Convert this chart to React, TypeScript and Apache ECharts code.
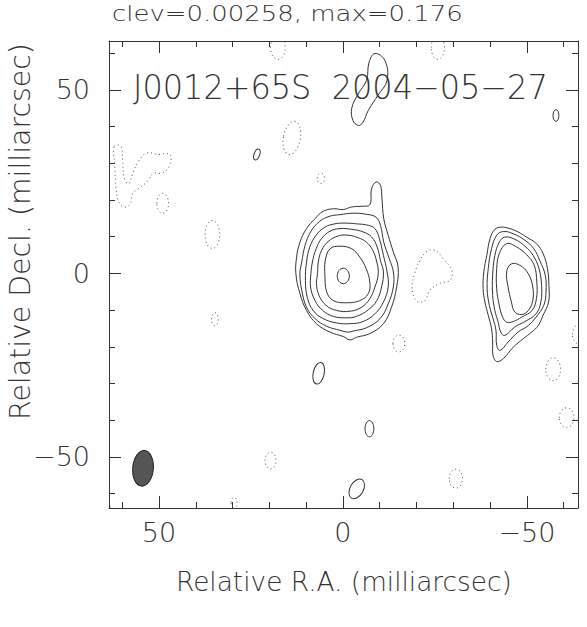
import React, { useEffect, useRef } from "react";
import * as echarts from "echarts";

// ---- text ----
const titleText = "clev=0.00258, max=0.176";
const sourceText = "J0012+65S  2004\u221205\u221227";
const xAxisName = "Relative R.A. (milliarcsec)";
const yAxisName = "Relative Decl. (milliarcsec)";

// ---- axes (milliarcsec) ----
const raRange = [-63.9, 63.6];
const decRange = [-63.9, 63.3];
const raTicks = [60, 50, 40, 30, 20, 10, 0, -10, -20, -30, -40, -50, -60];
const raMajor = [50, 0, -50];
const decTicks = [60, 50, 40, 30, 20, 10, 0, -10, -20, -30, -40, -50, -60];
const decMajor = [50, 0, -50];

// ---- main component contours [RA, Dec] ----
const mainRing1 = [[12.6,4.4],[11.7,8.5],[9.9,12.2],[7.6,14.9],[5.4,16.9],[2.6,17.6],[-0.1,17.4],[-2.4,18.1],[-5.1,18.3],[-7.3,18.7],[-7.8,23.1],[-9.0,24.9],[-10.2,24.0],[-10.6,20.4],[-11.1,14.9],[-12.3,10.4],[-13.7,5.8],[-15.0,1.7],[-14.6,-3.7],[-13.2,-9.2],[-11.0,-13.7],[-7.3,-16.4],[-3.7,-17.4],[-1.9,-18.1],[-0.1,-17.2],[3.5,-16.0],[7.2,-13.7],[9.9,-10.1],[11.7,-5.5],[12.8,-0.1]];
const mainRing2 = [[11.2,3.1],[10.3,7.6],[8.8,11.3],[6.3,14.2],[3.5,15.6],[0.8,16.0],[-2.8,16.4],[-6.4,16.1],[-9.0,15.3],[-10.2,13.1],[-11.1,8.5],[-12.6,4.0],[-13.7,0.4],[-13.7,-3.7],[-12.3,-8.3],[-10.1,-12.3],[-6.4,-14.8],[-2.8,-15.7],[-1.4,-16.0],[0.8,-15.5],[4.4,-14.4],[7.6,-12.3],[9.9,-9.2],[11.2,-4.6],[11.7,-0.1]];
const mainRing3 = [[9.9,3.1],[9.0,7.2],[7.3,10.4],[4.9,12.6],[2.2,13.5],[-0.5,13.7],[-3.7,13.5],[-6.9,13.1],[-8.7,12.2],[-9.9,9.5],[-11.0,4.9],[-12.0,0.4],[-12.3,-3.7],[-11.0,-7.8],[-8.7,-11.0],[-5.5,-13.1],[-1.9,-13.7],[1.7,-13.5],[5.4,-12.3],[8.1,-10.1],[9.7,-6.5],[10.2,-1.9]];
const mainRing4 = [[8.3,3.1],[7.3,6.7],[5.8,9.5],[3.5,11.5],[0.8,12.2],[-2.4,12.0],[-5.5,11.3],[-7.8,9.9],[-9.3,7.2],[-10.2,3.5],[-11.0,0.4],[-10.5,-3.7],[-9.2,-7.4],[-6.9,-9.9],[-3.7,-11.7],[-1.0,-12.1],[2.6,-11.7],[5.5,-10.1],[7.6,-7.4],[8.8,-3.7],[8.7,0.0]];
const mainRing5 = [[6.7,3.1],[5.8,6.3],[4.0,8.7],[1.3,10.2],[-1.4,10.4],[-4.2,9.7],[-6.4,8.5],[-8.1,6.3],[-9.2,3.1],[-9.6,-0.1],[-8.7,-3.7],[-7.3,-6.9],[-5.1,-9.2],[-1.9,-10.3],[1.7,-10.1],[4.6,-8.7],[6.5,-6.0],[7.2,-2.8],[6.9,0.0]];
const mainRing6 = [[3.5,6.7],[0.8,7.4],[-2.4,6.7],[-4.6,4.4],[-6.3,1.3],[-7.3,-2.4],[-6.9,-5.5],[-4.6,-7.4],[-1.0,-8.0],[2.6,-7.4],[4.4,-5.1],[4.9,-0.5],[4.8,3.5]];

// ---- secondary component contours ----
const eastRing1 = [[-43.1,12.6],[-45.4,12.2],[-47.6,11.3],[-49.9,9.9],[-52.6,8.1],[-54.4,5.4],[-55.6,1.3],[-56.0,-3.3],[-55.9,-7.8],[-54.4,-11.4],[-53.1,-14.2],[-51.3,-16.0],[-49.0,-17.8],[-46.3,-20.1],[-43.6,-23.2],[-41.8,-24.0],[-40.8,-22.3],[-40.7,-18.7],[-40.4,-15.1],[-39.5,-11.4],[-38.6,-7.8],[-38.1,-4.2],[-38.3,0.4],[-39.1,4.9],[-40.0,9.5],[-41.3,12.0]];
const eastRing2 = [[-43.6,11.4],[-46.3,10.8],[-49.5,9.0],[-51.9,6.7],[-53.5,3.5],[-55.0,-0.5],[-55.2,-5.1],[-54.6,-8.7],[-52.5,-11.9],[-50.4,-14.2],[-47.6,-16.0],[-44.9,-18.7],[-42.7,-21.0],[-41.8,-19.6],[-41.6,-15.5],[-40.8,-12.3],[-39.8,-8.7],[-39.2,-4.2],[-39.5,1.3],[-40.4,6.7],[-41.8,10.4]];
const eastRing3 = [[-44.0,9.9],[-46.7,9.3],[-49.5,7.4],[-51.7,4.9],[-53.3,1.3],[-54.0,-3.3],[-53.8,-7.8],[-52.5,-11.0],[-49.5,-13.1],[-46.7,-14.6],[-44.0,-16.9],[-42.9,-16.0],[-42.2,-13.3],[-41.3,-10.1],[-40.7,-6.0],[-40.7,-0.5],[-41.3,4.9],[-42.5,8.5]];
const eastRing4 = [[-44.5,8.1],[-47.2,7.2],[-49.9,5.1],[-52.0,2.2],[-52.7,-2.4],[-52.6,-6.9],[-51.4,-10.1],[-48.6,-11.9],[-46.3,-13.1],[-44.5,-13.3],[-43.4,-11.9],[-42.5,-8.7],[-41.8,-4.2],[-41.8,1.3],[-42.5,5.4]];
const eastRing5 = [[-45.8,2.6],[-48.1,2.2],[-50.4,-0.1],[-51.6,-3.7],[-51.6,-7.4],[-50.4,-10.1],[-48.6,-11.2],[-46.7,-10.5],[-45.8,-7.8],[-44.9,-3.7],[-44.5,0.4]];

// ---- isolated positive contour (north) ----
const northLoop = [[-8.7,59.9],[-11.4,58.0],[-12.0,52.6],[-9.5,48.5],[-6.9,44.4],[-5.4,41.1],[-4.2,40.3],[-2.7,41.7],[-2.4,45.0],[-4.1,48.8],[-6.4,52.6],[-7.1,57.5]];

// ---- negative contours (irregular) ----
const westNegative = [[62.2,34.6],[60.4,34.6],[59.9,30.8],[59.5,26.2],[58.3,24.4],[57.0,27.6],[55.4,30.8],[53.3,32.8],[50.2,32.4],[47.0,32.4],[47.3,29.0],[49.3,27.3],[51.6,27.2],[53.3,24.9],[55.6,23.1],[57.2,21.7],[57.9,18.8],[59.7,18.1],[61.1,19.9],[61.7,23.5],[62.0,29.0]];
const centralNegative = [[-18.8,-4.1],[-19.6,0.3],[-20.9,3.5],[-22.8,6.0],[-25.0,6.3],[-27.2,4.1],[-29.6,0.8],[-29.1,-1.9],[-26.4,-2.7],[-23.6,-4.6],[-22.3,-7.4],[-20.1,-7.6]];

// ---- compact contours: [RA, Dec, halfWidth, halfHeight, tilt deg] ----
const positiveBlobs = [
  [-0.1, -0.7, 1.65, 2.1, 0],
  [23.4, 32.4, 0.75, 1.55, 20],
  [6.6, -27.2, 1.5, 3.0, 12],
  [-7.2, -42.3, 1.2, 2.2, 0],
  [-3.75, -58.7, 1.8, 2.9, 30],
  [-57.9, 43.0, 0.8, 1.6, 0],
];
const negativeBlobs = [
  [17.7, 61.5, 2.0, 3.2, 0],
  [-25.8, 61.5, 1.8, 3.2, 0],
  [13.9, 36.9, 2.3, 4.6, 10],
  [6.0, 25.9, 1.0, 1.4, 0],
  [35.5, 10.6, 2.0, 3.8, 0],
  [49.0, 19.1, 1.6, 2.7, 0],
  [34.8, -12.5, 0.9, 1.8, 0],
  [19.7, -51.0, 1.5, 2.3, 0],
  [29.6, -62.4, 0.8, 1.4, 0],
  [-15.2, -19.1, 1.6, 2.3, 0],
  [-30.7, -55.9, 1.8, 2.6, 0],
  [-57.15, -26.1, 2.0, 3.1, 0],
  [-60.8, -39.3, 2.0, 2.7, 0],
  [-63.9, -16.6, 1.5, 2.5, 0],
  [64.2, -64.2, 1.0, 1.5, 0],
];
const beam = [[54.35, -53.1, 2.81, 4.86, 5]];

const solidContours = [mainRing1, mainRing2, mainRing3, mainRing4, mainRing5, mainRing6,
  eastRing1, eastRing2, eastRing3, eastRing4, eastRing5, northLoop];
const dottedContours = [westNegative, centralNegative];

const FONT = '"DejaVu Sans"';
const WEIGHT = 200;
const INK = "#333";

function measure(text: string, size: number) {
  const ctx = document.createElement("canvas").getContext("2d")!;
  ctx.font = `${WEIGHT} ${size}px ${FONT}`;
  return ctx.measureText(text).width;
}

const fmt = (v: number) => (v < 0 ? "\u2212" + Math.abs(v) : String(v));

function polySeries(pts: number[][], dotted: boolean) {
  return {
    type: "custom",
    coordinateSystem: "cartesian2d",
    xAxisIndex: 0,
    yAxisIndex: 0,
    clip: true,
    silent: true,
    data: pts,
    encode: { x: 0, y: 1 },
    renderItem: (params: any, api: any) => {
      if (params.dataIndex !== 0) return null;
      const points = pts.map((p) => api.coord(p));
      return {
        type: "polygon",
        shape: { points, smooth: 0.4 },
        style: dotted
          ? { fill: "none", stroke: "#555", lineWidth: 1, lineDash: [1, 3] }
          : { fill: "none", stroke: INK, lineWidth: 1 },
      };
    },
  };
}

function ellipseSeries(items: number[][], style: any) {
  return {
    type: "custom",
    coordinateSystem: "cartesian2d",
    xAxisIndex: 0,
    yAxisIndex: 0,
    clip: true,
    silent: true,
    data: items,
    encode: { x: 0, y: 1 },
    renderItem: (params: any, api: any) => {
      const c = api.coord([api.value(0), api.value(1)]);
      const s = api.size([api.value(2), api.value(3)]);
      return {
        type: "ellipse",
        x: c[0],
        y: c[1],
        rotation: (-api.value(4) * Math.PI) / 180,
        shape: { cx: 0, cy: 0, rx: Math.abs(s[0]), ry: Math.abs(s[1]) },
        style,
      };
    },
  };
}

function axis(pos: string, range: number[], inverse: boolean, ticks: number[], len: number, line: boolean, labels: number[] | null, margin: number) {
  return {
    type: "value",
    position: pos,
    min: range[0],
    max: range[1],
    inverse,
    axisLine: { show: line, onZero: false, lineStyle: { color: INK, width: 1 } },
    axisTick: { show: true, inside: true, length: len, customValues: ticks, lineStyle: { color: INK, width: 1 } },
    axisLabel: labels
      ? { show: true, customValues: labels, formatter: fmt, margin, fontSize: 27, fontFamily: FONT, fontWeight: WEIGHT, color: INK }
      : { show: false },
    splitLine: { show: false },
  };
}

function textEl(text: string, x: number, y: number, width: number, size: number, rotation = 0) {
  const sx = width / measure(text, size);
  return {
    type: "text",
    x,
    y,
    rotation,
    scaleX: sx,
    silent: true,
    style: {
      text,
      fontFamily: FONT,
      fontSize: size,
      fontWeight: WEIGHT,
      fill: INK,
      align: "left",
      verticalAlign: "middle",
      textAlign: "left",
      textVerticalAlign: "middle",
    },
  };
}

export default function App() {
  const ref = useRef<HTMLDivElement>(null);
  useEffect(() => {
    const chart = echarts.init(ref.current!, null, { renderer: "svg" });
    const option: any = {
      animation: false,
      backgroundColor: "#fff",
      grid: { left: 109, right: 9, top: 41, bottom: 119, outerBoundsMode: "none", containLabel: false },
      xAxis: [
        axis("bottom", raRange, true, raTicks, 6, true, raMajor, 11),
        axis("bottom", raRange, true, raMajor, 12, false, null, 0),
        axis("top", raRange, true, raTicks, 6, true, null, 0),
        axis("top", raRange, true, raMajor, 12, false, null, 0),
      ],
      yAxis: [
        axis("left", decRange, false, decTicks, 6, true, decMajor, 19),
        axis("left", decRange, false, decMajor, 12, false, null, 0),
        axis("right", decRange, false, decTicks, 6, true, null, 0),
        axis("right", decRange, false, decMajor, 12, false, null, 0),
      ],
      series: [
        ...solidContours.map((c) => polySeries(c, false)),
        ...dottedContours.map((c) => polySeries(c, true)),
        ellipseSeries(positiveBlobs, { fill: "none", stroke: INK, lineWidth: 1 }),
        ellipseSeries(negativeBlobs, { fill: "none", stroke: "#555", lineWidth: 1, lineDash: [1, 3] }),
        ellipseSeries(beam, { fill: "#555", stroke: "#222", lineWidth: 1 }),
      ],
      graphic: [
        textEl(titleText, 112, 13.5, 351, 21),
        textEl(sourceText, 133, 88, 415, 33),
        textEl(xAxisName, 176, 581, 336, 27),
        textEl(yAxisName, 21, 420, 377, 28, Math.PI / 2),
      ],
    };
    chart.setOption(option);
    return () => chart.dispose();
  }, []);
  return <div ref={ref} style={{ position: "absolute", left: 0, top: 0, width: 587, height: 627 }} />;
}
